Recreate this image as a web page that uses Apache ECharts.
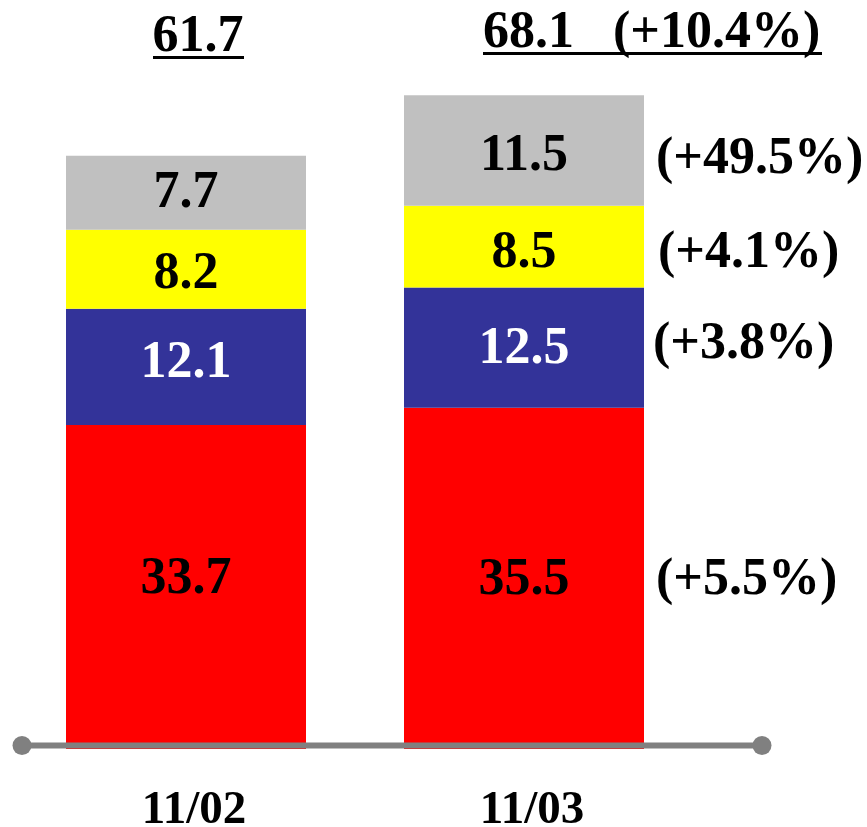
<!DOCTYPE html>
<html>
<head>
<meta charset="utf-8">
<script src="https://cdn.jsdelivr.net/npm/echarts@6/dist/echarts.min.js"></script>
<style>html,body{margin:0;padding:0;background:#fff}#c{width:867px;height:827px}</style>
</head>
<body>
<div id="c"></div>
<script>
var categories = ['11/02', '11/03'];
var redValues = [33.7, 35.5];
var blueValues = [12.1, 12.5];
var yellowValues = [8.2, 8.5];
var grayValues = [7.7, 11.5];
var totals = [61.7, 68.1];
var totalChanges = ['', '(+10.4%)'];
var redChange = '(+5.5%)';
var blueChange = '(+3.8%)';
var yellowChange = '(+4.1%)';
var grayChange = '(+49.5%)';

var FONT = "'Liberation Serif','Times New Roman',serif";
var chart = echarts.init(document.getElementById('c'));

var nudge = { red: [-7, 2], blue: [-3, 2], yellow: [5, 7], gray: [1, 6] };
var pctNudge = { red: [0, 2], blue: [-3, -3], yellow: [2, 7], gray: [0, 9] };

function segSeries(name, data, color, labelColor) {
  return {
    name: name, type: 'bar', stack: 'main', barWidth: 240, barGap: '-100%',
    data: data.map(function (v, i) { return { value: v, label: { offset: [0, nudge[name][i]] } }; }),
    itemStyle: { color: color },
    label: { show: true, position: 'inside', color: labelColor, fontFamily: FONT,
      fontWeight: 'bold', fontSize: 52, formatter: function (p) { return p.value.toFixed(1); } }
  };
}
function pctSeries(name, data, text) {
  return {
    type: 'bar', stack: 'pct', barWidth: 240, barGap: '-100%', silent: true,
    data: [null, { value: data[1], label: { offset: [pctNudge[name][0], pctNudge[name][1]] } }],
    itemStyle: { color: 'rgba(0,0,0,0)' },
    label: { show: true, position: 'right', distance: 12, color: '#000', fontFamily: FONT,
      fontWeight: 'bold', fontSize: 52, formatter: function () { return text; } }
  };
}

var option = {
  animation: false,
  grid: { left: 17, right: 174, top: 76, bottom: 78, containLabel: false, outerBoundsMode: 'none' },
  xAxis: {
    type: 'category', data: categories,
    axisLine: { show: false }, axisTick: { show: false },
    axisLabel: { color: '#000', fontFamily: FONT, fontWeight: 'bold', fontSize: 47, margin: 38, padding: [0, 0, 0, 16] }
  },
  yAxis: { type: 'value', min: 0, max: 70, show: false, splitLine: { show: false } },
  series: [
    segSeries('red', redValues, '#FF0000', '#000'),
    segSeries('blue', blueValues, '#333399', '#fff'),
    segSeries('yellow', yellowValues, '#FFFF00', '#000'),
    segSeries('gray', grayValues, '#C0C0C0', '#000'),
    pctSeries('red', redValues, redChange),
    pctSeries('blue', blueValues, blueChange),
    pctSeries('yellow', yellowValues, yellowChange),
    pctSeries('gray', grayValues, grayChange)
  ]
};
chart.setOption(option);

var y0 = chart.convertToPixel({ yAxisIndex: 0 }, 0) - 3.5;
var t1 = totals[0].toFixed(1);
var t2 = totals[1].toFixed(1) + '   ' + totalChanges[1];
var graphics = [
  { type: 'line', z: 100, shape: { x1: 22, y1: y0, x2: 762, y2: y0 }, style: { stroke: '#808080', lineWidth: 6 } },
  { type: 'circle', z: 101, shape: { cx: 22, cy: y0, r: 9.5 }, style: { fill: '#808080' } },
  { type: 'circle', z: 101, shape: { cx: 762, cy: y0, r: 9.5 }, style: { fill: '#808080' } },
  { type: 'text', z: 100, style: { x: 198, y: 37.5, text: t1, textAlign: 'center', textVerticalAlign: 'middle',
      font: 'bold 52px ' + FONT, fill: '#000' } },
  { type: 'line', z: 100, shape: { x1: 153, y1: 57.5, x2: 244, y2: 57.5 }, style: { stroke: '#000', lineWidth: 3 } },
  { type: 'text', z: 100, style: { x: 483, y: 33.5, text: t2, textAlign: 'left', textVerticalAlign: 'middle',
      font: 'bold 52px ' + FONT, fill: '#000' } },
  { type: 'line', z: 100, shape: { x1: 483, y1: 53.5, x2: 822, y2: 53.5 }, style: { stroke: '#000', lineWidth: 3 } }
];
chart.setOption({ graphic: graphics });
</script>
</body>
</html>
